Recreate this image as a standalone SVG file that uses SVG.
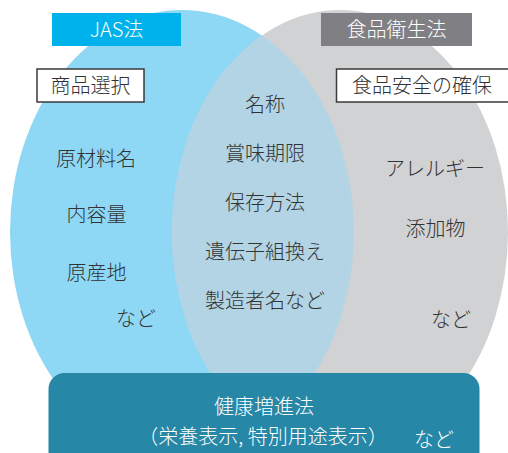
<svg xmlns="http://www.w3.org/2000/svg" width="508" height="453" viewBox="0 0 508 453">
<style>
.t{font-family:"Noto Sans CJK JP","Noto Sans",sans-serif;font-size:20px;font-weight:300;fill:#333333;text-anchor:middle}
.w{fill:#ffffff}
.box{fill:#ffffff;stroke:#3a3a3a;stroke-width:1.5}
</style>
<defs>
<clipPath id="rc"><ellipse cx="340" cy="232" rx="168" ry="222"/></clipPath>
</defs>
<rect width="508" height="453" fill="#ffffff"/>
<g id="jas-circle">
<ellipse cx="182" cy="232" rx="172" ry="222" fill="#8ed8f6"/>
</g>
<g id="hygiene-circle">
<ellipse cx="340" cy="232" rx="168" ry="222" fill="#d1d2d4"/>
</g>
<g id="overlap">
<ellipse cx="182" cy="232" rx="172" ry="222" fill="#b3d4e4" clip-path="url(#rc)"/>
</g>
<g id="jas-label">
<rect x="52" y="13" width="129" height="33" fill="#00b2eb"/>
<text class="t w" x="116.5" y="37">JAS法</text>
</g>
<g id="hygiene-label">
<rect x="321" y="13" width="151" height="33" fill="#808084"/>
<text class="t w" x="396.5" y="37">食品衛生法</text>
</g>
<g id="purpose-left">
<rect class="box" x="37" y="69" width="107" height="33"/>
<text class="t" x="90.5" y="93">商品選択</text>
</g>
<g id="purpose-right">
<rect class="box" x="336.5" y="69" width="175" height="33"/>
<text class="t" x="422" y="93">食品安全の確保</text>
</g>
<g id="left-items">
<text class="t" x="96" y="166">原材料名</text>
<text class="t" x="96.5" y="222">内容量</text>
<text class="t" x="96.5" y="280">原産地</text>
<text class="t" x="136" y="326">など</text>
</g>
<g id="common-items">
<text class="t" x="265" y="112">名称</text>
<text class="t" x="265" y="161">賞味期限</text>
<text class="t" x="265" y="210">保存方法</text>
<text class="t" x="265" y="259">遺伝子組換え</text>
<text class="t" x="265" y="308">製造者名など</text>
</g>
<g id="right-items">
<text class="t" x="435" y="176">アレルギー</text>
<text class="t" x="435.5" y="236">添加物</text>
<text class="t" x="451" y="327">など</text>
</g>
<g id="health-law">
<rect x="48.5" y="373" width="431" height="100" rx="16" ry="16" fill="#2687a6"/>
<text class="t w" x="264" y="414">健康増進法</text>
<text class="t w" x="263" y="444">（栄養表示, 特別用途表示）</text>
<text class="t w" x="434" y="447">など</text>
</g>
</svg>
